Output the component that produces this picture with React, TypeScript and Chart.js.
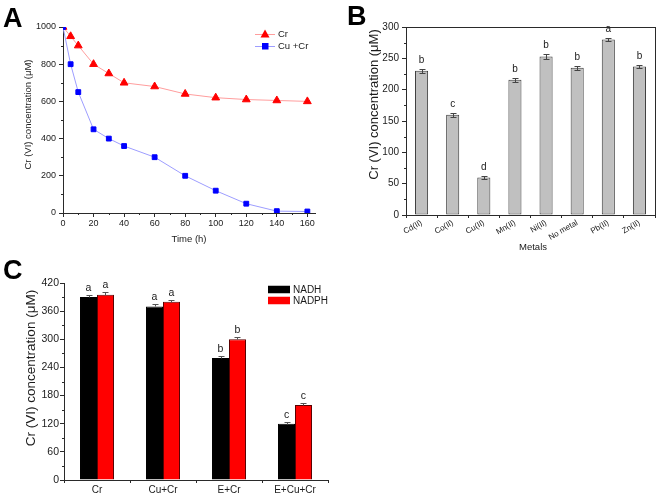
import React, { useEffect, useRef } from 'react';
import { Chart, registerables } from 'chart.js';
Chart.register(...registerables);

// ---------- Data ----------
const timeH = [0, 5, 10, 20, 30, 40, 60, 80, 100, 120, 140, 160];
const crOnly = [1000, 950, 900, 800, 750, 700, 680, 640, 620, 610, 605, 600];
const cuCr = [1000, 800, 650, 450, 400, 360, 300, 200, 120, 50, 10, 8];
const timeTicks = [0, 20, 40, 60, 80, 100, 120, 140, 160];

const metals = ['Cd(II)', 'Co(II)', 'Cu(II)', 'Mn(II)', 'Ni(II)', 'No metal', 'Pb(II)', 'Zn(II)'];
const metalValues = [230, 160, 60, 216, 253, 235, 280, 237];
const metalErrors = [3, 3, 2, 3, 3.5, 3, 2, 2];
const metalLetters = ['b', 'c', 'd', 'b', 'b', 'b', 'a', 'b'];

const treatments = ['Cr', 'Cu+Cr', 'E+Cr', 'E+Cu+Cr'];
const nadh = [390, 370, 260, 120];
const nadhErr = [5, 6, 5, 4];
const nadhLetters = ['a', 'a', 'b', 'c'];
const nadph = [395, 380, 300, 160];
const nadphErr = [5, 4, 5, 4];
const nadphLetters = ['a', 'a', 'b', 'c'];

const yTitle = 'Cr (VI) concentration (\u03BCM)';

// ---------- Styles ----------
const FF = '"Liberation Sans", Arial, Helvetica, sans-serif';
const AX = '#2a2a2a';
const TXT = '#1a1a1a';
const plain = (v: any) => String(v);

const decorPlugin = {
  id: 'decor',
  afterDatasetsDraw(chart: any, _a: any, opts: any) {
    const ctx = chart.ctx;
    const eb = opts.errorBars || [];
    eb.forEach((cfg: any) => {
      const meta = chart.getDatasetMeta(cfg.dataset);
      const ys = chart.scales[meta.yAxisID];
      const vals = chart.data.datasets[cfg.dataset].data;
      meta.data.forEach((el: any, i: number) => {
        const v = vals[i];
        const e = cfg.errors[i];
        const x = Math.round(el.x) + 0.5;
        const yt = Math.round(ys.getPixelForValue(v + e)) + 0.5;
        const yb = Math.round(ys.getPixelForValue(cfg.full ? v - e : v)) + 0.5;
        ctx.save();
        ctx.strokeStyle = cfg.color;
        ctx.lineWidth = 1;
        ctx.beginPath();
        ctx.moveTo(x, yt);
        ctx.lineTo(x, yb);
        ctx.moveTo(x - cfg.cap, yt);
        ctx.lineTo(x + cfg.cap, yt);
        if (cfg.full) {
          ctx.moveTo(x - cfg.cap, yb);
          ctx.lineTo(x + cfg.cap, yb);
        }
        ctx.stroke();
        if (cfg.letters) {
          ctx.fillStyle = TXT;
          ctx.font = `${cfg.letterSize}px ${FF}`;
          ctx.textAlign = 'center';
          ctx.textBaseline = 'alphabetic';
          ctx.fillText(cfg.letters[i], el.x, yt - cfg.gap);
        }
        ctx.restore();
      });
    });
  },
  afterDraw(chart: any, _a: any, opts: any) {
    const ctx = chart.ctx;
    const area = chart.chartArea;
    // minor ticks
    (opts.minor || []).forEach((m: any) => {
      const s = chart.scales[m.axis];
      ctx.save();
      ctx.strokeStyle = AX;
      ctx.lineWidth = 1;
      ctx.beginPath();
      for (let v = s.min; v <= s.max + 1e-9; v += m.step) {
        const r = v / m.major;
        if (Math.abs(r - Math.round(r)) < 1e-6) continue;
        const p = Math.round(s.getPixelForValue(v)) + 0.5;
        if (s.isHorizontal()) {
          const y0 = Math.round(s.top);
          ctx.moveTo(p, y0);
          ctx.lineTo(p, y0 + m.len);
        } else {
          const x0 = Math.round(s.right);
          ctx.moveTo(x0, p);
          ctx.lineTo(x0 - m.len, p);
        }
      }
      ctx.stroke();
      ctx.restore();
    });
    // frame
    if (opts.frame) {
      ctx.save();
      ctx.strokeStyle = AX;
      ctx.lineWidth = 1;
      ctx.strokeRect(Math.round(area.left) + 0.5, Math.round(area.top) + 0.5,
        Math.round(area.right - area.left), Math.round(area.bottom - area.top));
      ctx.restore();
    }
    // legend
    const lg = opts.legend;
    if (lg) {
      lg.items.forEach((it: any) => {
        const ds = chart.data.datasets[it.dataset];
        ctx.save();
        if (lg.kind === 'line') {
          ctx.strokeStyle = ds.borderColor;
          ctx.lineWidth = 1;
          ctx.beginPath();
          ctx.moveTo(lg.x, it.y + 0.5);
          ctx.lineTo(lg.x + lg.w, it.y + 0.5);
          ctx.stroke();
          ctx.fillStyle = ds.pointBackgroundColor;
          const cx = lg.x + lg.w / 2;
          if (ds.pointStyle === 'triangle') {
            const r = 4.5;
            ctx.beginPath();
            ctx.moveTo(cx, it.y - r);
            ctx.lineTo(cx + r, it.y + r * 0.75);
            ctx.lineTo(cx - r, it.y + r * 0.75);
            ctx.closePath();
            ctx.fill();
          } else {
            ctx.fillRect(cx - 3, it.y - 3, 6.5, 6.5);
          }
        } else {
          ctx.fillStyle = ds.backgroundColor;
          ctx.fillRect(lg.x, it.y - lg.h / 2, lg.w, lg.h);
        }
        ctx.fillStyle = TXT;
        ctx.font = `${lg.size}px ${FF}`;
        ctx.textAlign = 'left';
        ctx.textBaseline = 'middle';
        ctx.fillText(ds.label, lg.x + lg.w + lg.gap, it.y + 0.5);
        ctx.restore();
      });
    }
    // texts (axis titles, panel letters)
    (opts.texts || []).forEach((t: any) => {
      ctx.save();
      ctx.translate(t.x, t.y);
      if (t.rot) ctx.rotate(t.rot);
      ctx.fillStyle = t.color || TXT;
      ctx.font = `${t.bold ? 'bold ' : ''}${t.size}px ${FF}`;
      ctx.textAlign = t.align || 'center';
      ctx.textBaseline = t.baseline || 'middle';
      ctx.fillText(t.text, 0, 0);
      ctx.restore();
    });
  },
};

function axis(extra: any) {
  return {
    grid: { drawOnChartArea: false, drawTicks: true, tickLength: 4, color: AX, tickWidth: 1 },
    border: { color: AX, width: 1 },
    ...extra,
  };
}

function configA(): any {
  return {
    type: 'line',
    data: {
      datasets: [
        {
          label: 'Cu +Cr',
          data: timeH.map((t, i) => ({ x: t, y: cuCr[i] })),
          borderColor: '#9d9dff',
          backgroundColor: '#0000ff',
          pointBackgroundColor: '#0000ff',
          pointBorderColor: '#0000ff',
          pointStyle: 'rect',
          pointRadius: 3.4,
          borderWidth: 1,
          order: 0,
        },
        {
          label: 'Cr',
          data: timeH.map((t, i) => ({ x: t, y: crOnly[i] })),
          borderColor: '#ff9d9d',
          backgroundColor: '#ff0000',
          pointBackgroundColor: '#ff0000',
          pointBorderColor: '#ff0000',
          pointStyle: 'triangle',
          pointRadius: 4.5,
          borderWidth: 1,
          order: 1,
        },
      ],
    },
    options: {
      animation: false,
      responsive: false,
      layout: { padding: { top: 27, right: 15, left: 0, bottom: 0 } },
      plugins: {
        legend: { display: false },
        tooltip: { enabled: false },
        decor: {
          minor: [
            { axis: 'x', step: 10, major: 20, len: 2 },
            { axis: 'y', step: 100, major: 200, len: 2 },
          ],
          legend: {
            kind: 'line', x: 255, w: 20, gap: 3, size: 9.5,
            items: [{ dataset: 1, y: 34 }, { dataset: 0, y: 46 }],
          },
          texts: [
            { text: yTitle, x: 28, y: 114.5, rot: -Math.PI / 2, size: 9.5 },
            { text: 'Time (h)', x: 189, y: 239, size: 9.5 },
            { text: 'A', x: 3, y: 27, size: 27, bold: true, align: 'left', baseline: 'alphabetic', color: '#000' },
          ],
        },
      },
      scales: {
        x: axis({
          type: 'linear', min: 0, max: 165,
          afterBuildTicks: (s: any) => { s.ticks = timeTicks.map((v) => ({ value: v })); },
          afterFit: (s: any) => { s.height = 37; },
          ticks: { autoSkip: false, maxRotation: 0, padding: 1, color: TXT, callback: plain, font: { family: FF, size: 9 } },
        }),
        y: axis({
          type: 'linear', min: 0, max: 1000,
          afterFit: (s: any) => { s.width = 63; },
          ticks: { stepSize: 200, padding: 3, color: TXT, callback: plain, font: { family: FF, size: 9 } },
        }),
      },
    },
    plugins: [decorPlugin],
  };
}

function configB(): any {
  return {
    type: 'bar',
    data: {
      labels: metals,
      datasets: [
        {
          label: 'Metals',
          data: metalValues,
          backgroundColor: '#c0c0c0',
          borderColor: '#3c3c3c',
          borderWidth: 1,
          borderSkipped: false,
          barPercentage: 0.42,
          categoryPercentage: 1,
        },
      ],
    },
    options: {
      animation: false,
      responsive: false,
      layout: { padding: { top: 27, right: 5, left: 0, bottom: 0 } },
      plugins: {
        legend: { display: false },
        tooltip: { enabled: false },
        decor: {
          frame: true,
          minor: [{ axis: 'y', step: 25, major: 50, len: 2 }],
          errorBars: [
            { dataset: 0, errors: metalErrors, letters: metalLetters, color: '#444', cap: 3, full: true, gap: 7, letterSize: 10 },
          ],
          texts: [
            { text: yTitle, x: 44, y: 104.5, rot: -Math.PI / 2, size: 13 },
            { text: 'Metals', x: 203, y: 247, size: 9.5 },
            { text: 'B', x: 17, y: 25, size: 27, bold: true, align: 'left', baseline: 'alphabetic', color: '#000' },
          ],
        },
      },
      scales: {
        x: axis({
          grid: { offset: true, drawOnChartArea: false, drawTicks: true, tickLength: 3, color: AX },
          afterFit: (s: any) => { s.height = 35; },
          ticks: { autoSkip: false, maxRotation: 30, minRotation: 30, padding: 0, color: TXT, font: { family: FF, size: 8 } },
        }),
        y: axis({
          min: 0, max: 300,
          afterFit: (s: any) => { s.width = 76; },
          ticks: { stepSize: 50, padding: 3, color: TXT, callback: plain, font: { family: FF, size: 10 } },
        }),
      },
    },
    plugins: [decorPlugin],
  };
}

function configC(): any {
  return {
    type: 'bar',
    data: {
      labels: treatments,
      datasets: [
        {
          label: 'NADH',
          data: nadh,
          backgroundColor: '#000000',
          borderColor: '#000000',
          borderWidth: 1,
          barPercentage: 1,
          categoryPercentage: 0.515,
        },
        {
          label: 'NADPH',
          data: nadph,
          backgroundColor: '#ff0000',
          borderColor: '#5a0000',
          borderWidth: 1,
          barPercentage: 1,
          categoryPercentage: 0.515,
        },
      ],
    },
    options: {
      animation: false,
      responsive: false,
      layout: { padding: { top: 33, right: 2, left: 0, bottom: 0 } },
      plugins: {
        legend: { display: false },
        tooltip: { enabled: false },
        decor: {
          minor: [{ axis: 'y', step: 30, major: 60, len: 2 }],
          errorBars: [
            { dataset: 0, errors: nadhErr, letters: nadhLetters, color: '#555', cap: 3, full: false, gap: 5, letterSize: 10.5 },
            { dataset: 1, errors: nadphErr, letters: nadphLetters, color: '#555', cap: 3, full: false, gap: 5, letterSize: 10.5 },
          ],
          legend: {
            kind: 'box', x: 268, w: 22, h: 7.5, gap: 3, size: 10,
            items: [{ dataset: 0, y: 39.5 }, { dataset: 1, y: 50.5 }],
          },
          texts: [
            { text: yTitle, x: 31, y: 118, rot: -Math.PI / 2, size: 13.5 },
            { text: 'C', x: 3, y: 29, size: 27, bold: true, align: 'left', baseline: 'alphabetic', color: '#000' },
          ],
        },
      },
      scales: {
        x: axis({
          grid: { offset: true, drawOnChartArea: false, drawTicks: true, tickLength: 3, color: AX },
          afterFit: (s: any) => { s.height = 16; },
          ticks: { autoSkip: false, maxRotation: 0, padding: 1, color: TXT, font: { family: FF, size: 10 } },
        }),
        y: axis({
          min: 0, max: 420,
          afterFit: (s: any) => { s.width = 64; },
          ticks: { stepSize: 60, padding: 1, color: TXT, callback: plain, font: { family: FF, size: 10.5 } },
        }),
      },
    },
    plugins: [decorPlugin],
  };
}

function Panel(props: { make: () => any; left: number; top: number; width: number; height: number }) {
  const ref = useRef<HTMLCanvasElement | null>(null);
  useEffect(() => {
    if (!ref.current) return;
    const chart = new Chart(ref.current, props.make());
    return () => chart.destroy();
  }, []);
  return (
    <canvas
      ref={ref}
      width={props.width}
      height={props.height}
      style={{ position: 'absolute', left: props.left, top: props.top, width: props.width, height: props.height, display: 'block' }}
    />
  );
}

export default function App() {
  return (
    <div style={{ position: 'absolute', left: 0, top: 0, width: 660, height: 496, background: '#fff', overflow: 'hidden' }}>
      <Panel make={configA} left={0} top={0} width={330} height={250} />
      <Panel make={configB} left={330} top={0} width={330} height={250} />
      <Panel make={configC} left={0} top={250} width={330} height={246} />
    </div>
  );
}
